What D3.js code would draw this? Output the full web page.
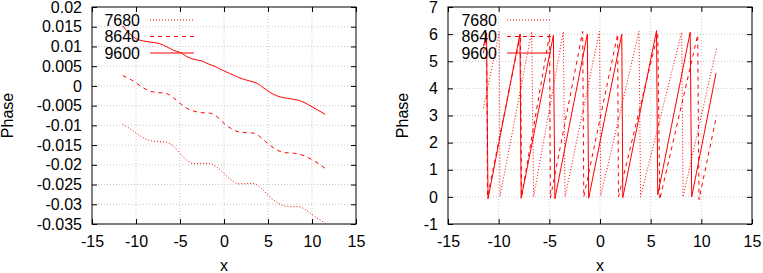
<!DOCTYPE html>
<html>
<head>
<meta charset="utf-8">
<script src="https://cdn.jsdelivr.net/npm/d3@7"></script>
<style>
  html, body { margin: 0; padding: 0; background: #fff; }
  svg { display: block; }
  text { font-family: "Liberation Sans", Arial, sans-serif; font-size: 16px; fill: #000; }
</style>
</head>
<body>
<script>
// series names (legend order) and their dash styles
var seriesNames = ['7680', '8640', '9600'];
var xTicks = [-15, -10, -5, 0, 5, 10, 15];
var leftYTicks = [0.02, 0.015, 0.01, 0.005, 0, -0.005, -0.01, -0.015, -0.02, -0.025, -0.03, -0.035];
var rightYTicks = [-1, 0, 1, 2, 3, 4, 5, 6, 7];

// left panel: residual phase
var res7680 = [[-11.5,-0.0097],[-10.5,-0.0111],[-9.5,-0.0127],[-8.5,-0.0138],[-7.5,-0.0141],[-6.5,-0.0143],
	[-5.8,-0.0152],[-5.0,-0.0171],[-4.2,-0.0189],[-3.4,-0.0197],[-2.5,-0.0196],[-1.6,-0.0197],[-0.8,-0.0206],
	[0.0,-0.0222],[0.8,-0.0238],[1.6,-0.0248],[2.4,-0.0248],[3.1,-0.0247],[3.8,-0.0252],[4.5,-0.0265],
	[5.2,-0.0281],[6.0,-0.0295],[6.8,-0.0304],[7.6,-0.0306],[8.4,-0.0306],[9.2,-0.0313],[10.0,-0.0326],
	[10.8,-0.0338],[11.5,-0.0348]];
var res8640 = [[-11.5,0.0026],[-10.5,0.0015],[-9.5,0.0000],[-8.5,-0.0013],[-7.5,-0.0017],[-6.6,-0.0019],
	[-5.8,-0.0029],[-5.0,-0.0044],[-4.2,-0.0057],[-3.4,-0.0064],[-2.5,-0.0068],[-1.6,-0.0069],[-0.8,-0.0078],
	[0.0,-0.0095],[0.8,-0.0108],[1.6,-0.0116],[2.4,-0.0118],[3.2,-0.0119],[3.8,-0.0124],[4.5,-0.0137],
	[5.2,-0.0150],[6.0,-0.0162],[6.8,-0.0169],[7.6,-0.0170],[8.4,-0.0172],[9.2,-0.0178],[10.0,-0.0187],
	[10.8,-0.0198],[11.5,-0.0209]];
var res9600 = [[-11.5,0.0152],[-10.8,0.0134],[-10.1,0.0121],[-9.2,0.0114],[-8.3,0.0111],[-7.3,0.0107],
	[-6.5,0.0099],[-5.7,0.0090],[-5.0,0.0085],[-4.2,0.0074],[-3.4,0.0067],[-2.6,0.0064],[-1.8,0.0056],
	[-1.0,0.0049],[-0.2,0.0040],[0.6,0.0032],[1.4,0.0024],[2.2,0.0017],[3.0,0.0012],[3.8,0.0006],
	[4.5,-0.0005],[5.2,-0.0016],[6.0,-0.0025],[6.8,-0.0030],[7.6,-0.0033],[8.4,-0.0036],[9.2,-0.0043],
	[10.0,-0.0053],[10.8,-0.0063],[11.5,-0.0072]];

// right panel: wrapped phase (vertices of the sawtooth)
var wrap7680 = [[-11.5,3.27],[-9.94,6.09],[-9.87,0.02],[-6.74,6.09],[-6.55,0.0],[-3.62,6.09],[-3.45,0.0],
	[-0.05,6.1],[0.08,0.05],[3.85,6.1],[4.0,0.0],[8.06,6.07],[8.2,0.0],[11.5,5.48]];
var wrap8640 = [[-11.5,5.3],[-11.2,6.0],[-11.1,0.0],[-7.85,6.0],[-7.75,0.0],[-4.97,6.0],[-4.9,-0.05],
	[-1.71,6.1],[-1.6,0.0],[1.74,6.0],[1.82,0.0],[5.7,6.0],[5.9,-0.1],[9.64,5.97],[9.77,-0.1],[11.5,2.99]];
var wrap9600 = [[-11.5,5.55],[-11.2,6.05],[-11.05,-0.07],[-7.9,6.0],[-7.78,-0.05],[-4.6,5.95],[-4.45,-0.07],
	[-1.25,6.0],[-1.12,-0.05],[2.15,6.0],[2.25,-0.03],[5.58,6.13],[5.7,0.08],[8.9,6.07],[9.05,0.0],[11.45,4.56]];

var dashes = {'7680': '1,2', '8640': '4,4', '9600': null};

var svg = d3.select('body').append('svg')
	.attr('width', 763)
	.attr('height', 273);

function fmt(d) {
	return String(+d.toFixed(3));
}

function drawPanel(opt) {
	var x = d3.scaleLinear().domain([-15, 15]).range([opt.left, opt.right]);
	var y = d3.scaleLinear().domain(opt.yDomain).range([opt.bottom, opt.top]);
	var g = svg.append('g');

	// grid
	g.append('g').selectAll('line.gx')
		.data(xTicks.slice(1, -1))
		.enter().append('line')
		.attr('x1', function(d) { return x(d); }).attr('x2', function(d) { return x(d); })
		.attr('y1', opt.top).attr('y2', opt.bottom)
		.style('stroke', '#c8c8c8').style('stroke-dasharray', '1,2');
	g.append('g').selectAll('line.gy')
		.data(opt.yTicks.slice(1, -1))
		.enter().append('line')
		.attr('y1', function(d) { return y(d); }).attr('y2', function(d) { return y(d); })
		.attr('x1', opt.left).attr('x2', opt.right)
		.style('stroke', '#c8c8c8').style('stroke-dasharray', '1,2');

	// data
	var line = d3.line()
		.x(function(d) { return x(d[0]); })
		.y(function(d) { return y(d[1]); })
		.curve(opt.curve);
	seriesNames.forEach(function(name, i) {
		g.append('path')
			.datum(opt.series[i])
			.attr('d', line)
			.style('fill', 'none')
			.style('stroke', '#ff0000')
			.style('stroke-width', 1)
			.style('stroke-dasharray', dashes[name]);
	});

	// axes, ticks inward, mirrored
	g.append('g').attr('transform', 'translate(0,' + opt.bottom + ')')
		.call(d3.axisBottom(x).tickValues(xTicks).tickSize(-5).tickPadding(12).tickFormat(fmt));
	g.append('g').attr('transform', 'translate(0,' + opt.top + ')')
		.call(d3.axisTop(x).tickValues(xTicks).tickSize(-5).tickFormat(''));
	g.append('g').attr('transform', 'translate(' + opt.left + ',0)')
		.call(d3.axisLeft(y).tickValues(opt.yTicks).tickSize(-5).tickPadding(10).tickFormat(fmt));
	g.append('g').attr('transform', 'translate(' + opt.right + ',0)')
		.call(d3.axisRight(y).tickValues(opt.yTicks).tickSize(-5).tickFormat(''));
	g.selectAll('.domain').remove();
	g.selectAll('.tick line').style('stroke', '#000');
	g.selectAll('.tick text')
		.style('font-family', '"Liberation Sans", Arial, sans-serif')
		.style('font-size', '16px')
		.style('fill', '#000');

	g.append('rect')
		.attr('x', opt.left).attr('y', opt.top)
		.attr('width', opt.right - opt.left).attr('height', opt.bottom - opt.top)
		.style('fill', 'none').style('stroke', '#000').style('stroke-width', 1);

	// axis labels
	g.append('text')
		.attr('x', (opt.left + opt.right) / 2).attr('y', 271)
		.attr('text-anchor', 'middle')
		.text('x');
	g.append('text')
		.attr('transform', 'translate(' + opt.ylabX + ',' + (opt.top + opt.bottom) / 2 + ') rotate(-90)')
		.attr('text-anchor', 'middle')
		.text('Phase');

	// legend
	var leg = g.append('g');
	seriesNames.forEach(function(name, i) {
		var yy = 20 + i * 16.5;
		leg.append('text')
			.attr('x', opt.keyText).attr('y', yy)
			.attr('dy', '0.35em')
			.attr('text-anchor', 'end')
			.text(name);
		leg.append('line')
			.attr('x1', opt.keyText + 10).attr('x2', opt.keyText + 54)
			.attr('y1', yy).attr('y2', yy)
			.style('stroke', '#ff0000')
			.style('stroke-dasharray', dashes[name]);
	});
}

drawPanel({
	left: 92, right: 356, top: 7, bottom: 224,
	yDomain: [-0.035, 0.02], yTicks: leftYTicks,
	series: [res7680, res8640, res9600],
	curve: d3.curveMonotoneX,
	ylabX: 13, keyText: 140
});

drawPanel({
	left: 448, right: 752, top: 7, bottom: 224,
	yDomain: [-1, 7], yTicks: rightYTicks,
	series: [wrap7680, wrap8640, wrap9600],
	curve: d3.curveLinear,
	ylabX: 408, keyText: 497
});
</script>
</body>
</html>
